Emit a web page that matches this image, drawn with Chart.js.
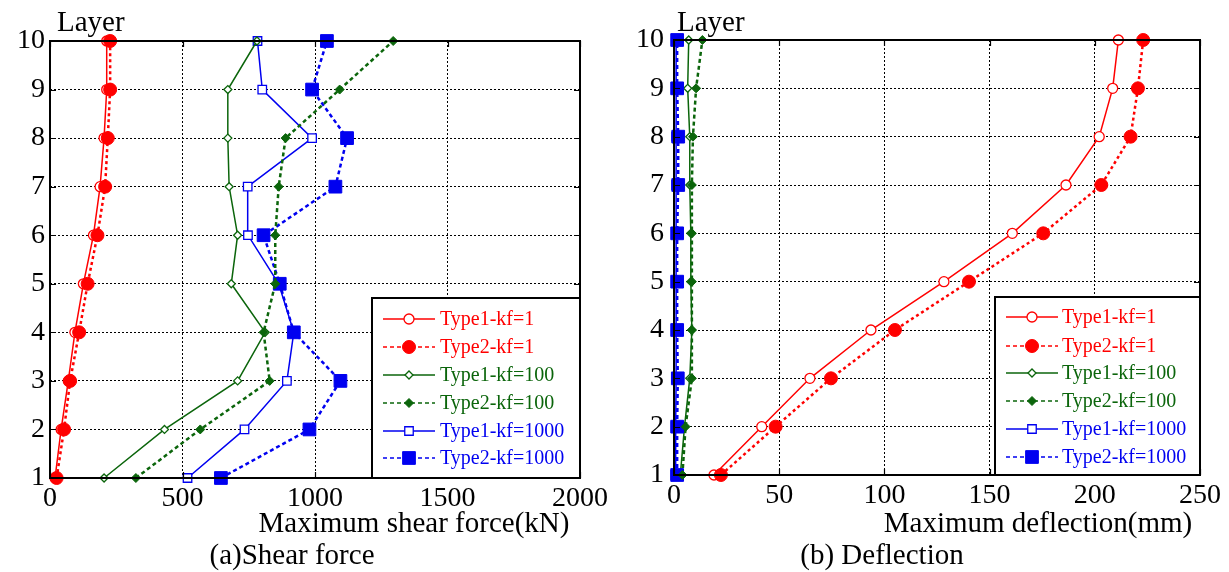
<!DOCTYPE html>
<html><head><meta charset="utf-8">
<script src="https://cdn.jsdelivr.net/npm/chart.js@4.4.0/dist/chart.umd.min.js"></script>
<style>
html,body{margin:0;padding:0;background:#fff;width:1229px;height:572px;overflow:hidden;}
#wa{position:absolute;left:0;top:0;width:615px;height:572px;}
#wb{position:absolute;left:615px;top:0;width:614px;height:572px;}
</style></head><body>
<div id="wa"><canvas id="ca"></canvas></div>
<div id="wb"><canvas id="cb"></canvas></div>
<script>
// ---------- data ----------
const layers = [1, 2, 3, 4, 5, 6, 7, 8, 9, 10];
const seriesNames = ['Type1-kf=1', 'Type2-kf=1', 'Type1-kf=100', 'Type2-kf=100', 'Type1-kf=1000', 'Type2-kf=1000'];

// (a) maximum shear force, kN (layer 1 .. 10)
const shearT1kf1    = [19, 42, 69, 94, 126, 164, 189, 204, 214, 214];
const shearT2kf1    = [25, 53, 76, 110, 142, 179, 208, 218, 227, 227];
const shearT1kf100  = [204, 432, 708, 812, 684, 708, 676, 671, 671, 781];
const shearT2kf100  = [324, 567, 829, 806, 850, 850, 863, 889, 1093, 1295];
const shearT1kf1000 = [519, 734, 894, 920, 863, 747, 746, 989, 801, 783];
const shearT2kf1000 = [645, 979, 1096, 920, 867, 806, 1077, 1121, 989, 1045];

// (b) maximum deflection, mm (layer 1 .. 10)
const deflT1kf1    = [19, 41.7, 64.6, 93.6, 128.3, 160.8, 186.3, 202.1, 208.5, 211.2];
const deflT2kf1    = [22.3, 48.3, 74.6, 105, 140.2, 175.5, 203.1, 217, 220.5, 223];
const deflT1kf100  = [3, 5, 7.5, 8.5, 8, 8, 7.5, 7.5, 6.5, 7];
const deflT2kf100  = [4, 5.5, 8.5, 8.5, 8.5, 8.5, 8.5, 9, 10.5, 13.5];
const deflT1kf1000 = [0.6, 0.8, 1, 1, 1, 1, 1, 1, 1, 1];
const deflT2kf1000 = [1.5, 1.5, 1.8, 1.5, 1.5, 1.5, 2, 2, 1.5, 1.5];

const shearTicks = [0, 500, 1000, 1500, 2000];
const deflTicks  = [0, 50, 100, 150, 200, 250];
const layerTicks = [1, 2, 3, 4, 5, 6, 7, 8, 9, 10];

// ---------- styles ----------
const RED = '#ff0000', GREEN = '#0b650b', BLUE = '#0000f0';
const FONT = "'Liberation Serif', 'Times New Roman', serif";
const styles = [
  {color: RED,   dashed: false, shape: 'circle',  r: 5,   filled: false, dash: []},
  {color: RED,   dashed: true,  shape: 'circle',  r: 6.5, filled: true,  dash: [3, 3]},
  {color: GREEN, dashed: false, shape: 'rectRot', r: 4,   filled: false, dash: []},
  {color: GREEN, dashed: true,  shape: 'rectRot', r: 4.5, filled: true,  dash: [4, 3]},
  {color: BLUE,  dashed: false, shape: 'rect',    r: 6,   filled: false, dash: []},
  {color: BLUE,  dashed: true,  shape: 'rect',    r: 9,   filled: true,  dash: [4, 3]}
];

function makeDatasets(arrs) {
  return arrs.map((xs, i) => {
    const s = styles[i];
    return {
      label: seriesNames[i],
      data: layers.map((l, k) => ({x: xs[k], y: l})),
      showLine: true,
      borderColor: s.color,
      backgroundColor: s.filled ? s.color : '#fff',
      borderWidth: s.dashed ? 2.5 : 1.5,
      borderDash: s.dash,
      pointStyle: s.shape,
      pointRadius: s.r,
      pointHoverRadius: s.r,
      pointBorderWidth: s.filled ? 1 : 1.3,
      pointBorderColor: s.color,
      pointBackgroundColor: s.filled ? s.color : '#fff',
      tension: 0,
      fill: false,
      clip: false,
      order: s.dashed ? 1 : 2
    };
  });
}

// ---------- decoration plugin ----------
const deco = {
  id: 'deco',
  afterDraw(chart, args, o) {
    const ctx = chart.ctx, a = chart.chartArea;
    const xs = chart.scales.x, ys = chart.scales.y;
    ctx.save();
    // inward ticks
    ctx.strokeStyle = '#000'; ctx.lineWidth = 1.2; ctx.setLineDash([]);
    ctx.beginPath();
    xs.ticks.forEach(t => {
      const px = Math.round(xs.getPixelForValue(t.value)) + 0.5;
      ctx.moveTo(px, a.bottom); ctx.lineTo(px, a.bottom - 6);
      ctx.moveTo(px, a.top); ctx.lineTo(px, a.top + 6);
    });
    ys.ticks.forEach(t => {
      const py = Math.round(ys.getPixelForValue(t.value)) + 0.5;
      ctx.moveTo(a.left, py); ctx.lineTo(a.left + 6, py);
      ctx.moveTo(a.right, py); ctx.lineTo(a.right - 6, py);
    });
    ctx.stroke();
    // frame
    ctx.lineWidth = 2;
    ctx.strokeRect(a.left, a.top, a.right - a.left, a.bottom - a.top);

    // legend
    const L = o.legend;
    ctx.fillStyle = '#fff';
    ctx.fillRect(L.x0, L.y0, L.x1 - L.x0, L.y1 - L.y0);
    ctx.lineWidth = 2; ctx.strokeStyle = '#000';
    ctx.strokeRect(L.x0, L.y0, L.x1 - L.x0, L.y1 - L.y0);
    ctx.font = '20px ' + FONT;
    ctx.textBaseline = 'middle'; ctx.textAlign = 'left';
    chart.data.datasets.forEach((ds, i) => {
      const y = L.rows[i];
      ctx.strokeStyle = ds.borderColor;
      ctx.lineWidth = styles[i].dashed ? 1.6 : 1.5;
      ctx.setLineDash(styles[i].dashed ? [4, 3] : []);
      ctx.beginPath(); ctx.moveTo(L.lx0, y); ctx.lineTo(L.lx1, y); ctx.stroke();
      ctx.setLineDash([]);
      ctx.fillStyle = ds.pointBackgroundColor;
      ctx.strokeStyle = ds.borderColor;
      ctx.lineWidth = ds.pointBorderWidth;
      Chart.helpers.drawPoint(ctx, {pointStyle: ds.pointStyle, radius: ds.pointRadius, rotation: 0, borderWidth: ds.pointBorderWidth}, (L.lx0 + L.lx1) / 2, y);
      ctx.fillStyle = ds.borderColor;
      ctx.fillText(ds.label, L.tx, y + 1);
    });

    // texts
    ctx.fillStyle = '#000';
    ctx.font = '29px ' + FONT;
    ctx.textAlign = 'left'; ctx.textBaseline = 'alphabetic';
    ctx.fillText('Layer', o.layerX, 31);
    ctx.textAlign = 'center'; ctx.textBaseline = 'middle';
    ctx.fillText(o.title, o.titleX, o.titleY);
    ctx.fillText(o.sub, o.subX, o.subY);
    ctx.restore();
  }
};

function makeChart(id, dsArrs, xTicks, yLeftWidth, padRight, padTop, bottomH, deco_o, yPad) {
  return new Chart(document.getElementById(id), {
    type: 'scatter',
    data: {datasets: makeDatasets(dsArrs)},
    plugins: [deco],
    options: {
      responsive: true,
      maintainAspectRatio: false,
      animation: false,
      events: [],
      layout: {padding: {left: 0, right: padRight, top: padTop, bottom: 0}},
      plugins: {legend: {display: false}, tooltip: {enabled: false}, deco: deco_o},
      scales: {
        x: {
          type: 'linear',
          min: xTicks[0], max: xTicks[xTicks.length - 1],
          afterBuildTicks: s => { s.ticks = xTicks.map(v => ({value: v})); },
          afterFit: s => { s.height = bottomH; },
          grid: {color: '#000', lineWidth: 1, drawTicks: false},
          border: {display: false, dash: [2, 2]},
          ticks: {color: '#000', padding: 4, font: {family: FONT, size: 28}, maxRotation: 0, autoSkip: false,
                  callback: v => String(v)}
        },
        y: {
          type: 'linear',
          min: layerTicks[0], max: layerTicks[layerTicks.length - 1],
          afterBuildTicks: s => { s.ticks = layerTicks.map(v => ({value: v})); },
          afterFit: s => { s.width = yLeftWidth; },
          grid: {color: '#000', lineWidth: 1, drawTicks: false},
          border: {display: false, dash: [2, 2]},
          ticks: {color: '#000', padding: yPad, font: {family: FONT, size: 28}, autoSkip: false,
                  callback: v => String(v)}
        }
      }
    }
  });
}

makeChart('ca',
  [shearT1kf1, shearT2kf1, shearT1kf100, shearT2kf100, shearT1kf1000, shearT2kf1000],
  shearTicks, 50, 35, 41, 94,
  {legend: {x0: 372, y0: 298, x1: 580, y1: 478, rows: [319, 347, 375, 403, 431, 458], lx0: 383, lx1: 435, tx: 440},
   layerX: 57, title: 'Maximum shear force(kN)', titleX: 414, titleY: 524, sub: '(a)Shear force', subX: 292, subY: 556},
  5);

makeChart('cb',
  [deflT1kf1, deflT2kf1, deflT1kf100, deflT2kf100, deflT1kf1000, deflT2kf1000],
  deflTicks, 59, 29, 40, 97,
  {legend: {x0: 380, y0: 297, x1: 585, y1: 475, rows: [317, 346, 373, 401, 429, 457], lx0: 391, lx1: 443, tx: 447},
   layerX: 62, title: 'Maximum deflection(mm)', titleX: 423, titleY: 524, sub: '(b) Deflection', subX: 267, subY: 556},
  10);
</script>
</body></html>
